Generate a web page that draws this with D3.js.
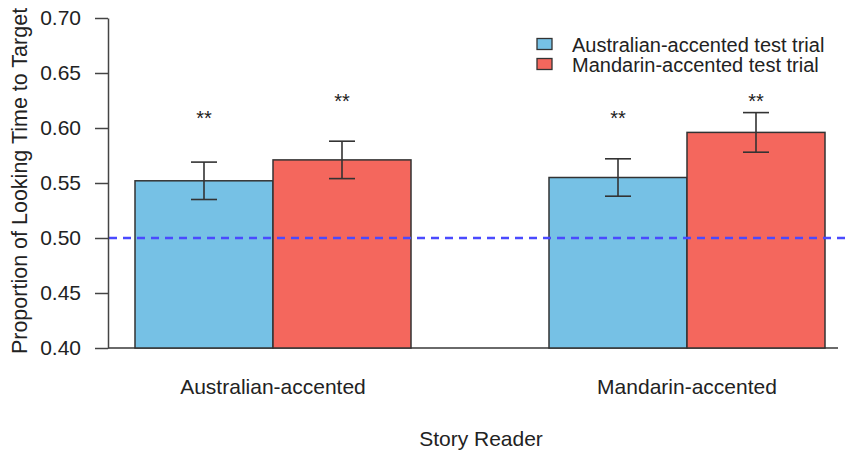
<!DOCTYPE html>
<html>
<head>
<meta charset="utf-8">
<script src="https://cdn.jsdelivr.net/npm/d3@7"></script>
<style>
  html, body { margin: 0; padding: 0; background: #fff; }
  svg { display: block; font-family: "Liberation Sans", Arial, Helvetica, sans-serif; }
</style>
</head>
<body>
<svg id="chart" width="845" height="453"></svg>
<script>
// ---- data ----
const groups = ["Australian-accented", "Mandarin-accented"];
const series = ["Australian-accented test trial", "Mandarin-accented test trial"];
const australianTrial = [0.552, 0.555];
const mandarinTrial   = [0.571, 0.596];
const australianErr   = [0.017, 0.017];
const mandarinErr     = [0.017, 0.018];
const starLevel       = [0.613, 0.628]; // y of "**" marks for trial 1 and 2
const starLabels      = ["**", "**"];
const yTicks = [0.40, 0.45, 0.50, 0.55, 0.60, 0.65, 0.70];
const chanceLevel = 0.50;
const colors = ["#76C1E5", "#F4675D"];

// ---- layout ----
const svg = d3.select("#chart");
const axisX = 108;
const y = d3.scaleLinear().domain([0.40, 0.70]).range([348, 18]);
const x0 = d3.scaleBand().domain(groups).range([135, 825]).paddingInner(1/3).paddingOuter(0);
const x1 = d3.scaleBand().domain(series).range([0, x0.bandwidth()]).padding(0);

const rows = [];
groups.forEach((g, gi) => {
  rows.push({g, s: series[0], v: australianTrial[gi], e: australianErr[gi], star: starLevel[0], lab: starLabels[0], c: colors[0]});
  rows.push({g, s: series[1], v: mandarinTrial[gi], e: mandarinErr[gi], star: starLevel[1], lab: starLabels[1], c: colors[1]});
});

// bottom baseline
svg.append("line")
  .attr("x1", axisX).attr("x2", 838)
  .attr("y1", y(0.40)).attr("y2", y(0.40))
  .attr("stroke", "#6a6a6a").attr("stroke-width", 2);

// bars
svg.append("g").selectAll("rect").data(rows).join("rect")
  .attr("x", d => x0(d.g) + x1(d.s))
  .attr("width", x1.bandwidth())
  .attr("y", d => y(d.v))
  .attr("height", d => y(0.40) - y(d.v))
  .attr("fill", d => d.c)
  .attr("stroke", "#333")
  .attr("stroke-width", 1.5);

// dashed chance line
svg.append("line")
  .attr("x1", axisX + 1).attr("x2", 845)
  .attr("y1", y(chanceLevel)).attr("y2", y(chanceLevel))
  .attr("stroke", "#4a4aff").attr("stroke-width", 2.5)
  .attr("stroke-dasharray", "8,6");

// error bars
const eb = svg.append("g").attr("stroke", "#333").attr("stroke-width", 1.6);
rows.forEach(d => {
  const cx = x0(d.g) + x1(d.s) + x1.bandwidth() / 2;
  eb.append("line").attr("x1", cx).attr("x2", cx).attr("y1", y(d.v + d.e)).attr("y2", y(d.v - d.e));
  eb.append("line").attr("x1", cx - 13).attr("x2", cx + 13).attr("y1", y(d.v + d.e)).attr("y2", y(d.v + d.e));
  eb.append("line").attr("x1", cx - 13).attr("x2", cx + 13).attr("y1", y(d.v - d.e)).attr("y2", y(d.v - d.e));
});

// significance stars
svg.append("g").selectAll("text").data(rows).join("text")
  .attr("x", d => x0(d.g) + x1(d.s) + x1.bandwidth() / 2)
  .attr("y", d => y(d.star) + 11)
  .attr("text-anchor", "middle")
  .attr("font-size", 20)
  .attr("fill", "#222")
  .text(d => d.lab);

// y axis
const yAxis = d3.axisLeft(y).tickValues(yTicks).tickFormat(d3.format(".2f"))
  .tickSize(13).tickSizeOuter(0).tickPadding(14);
const ya = svg.append("g").attr("transform", `translate(${axisX},0)`).call(yAxis);
ya.select(".domain").attr("stroke", "#444").attr("stroke-width", 1.5);
ya.selectAll(".tick line").attr("stroke", "#444").attr("stroke-width", 1.5);
ya.selectAll(".tick text").attr("font-size", 21).attr("fill", "#222")
  .attr("font-family", "'Liberation Sans', Arial, sans-serif");

// y axis title
svg.append("text")
  .attr("transform", "translate(27,181) rotate(-90)")
  .attr("text-anchor", "middle")
  .attr("font-size", 21.5)
  .attr("fill", "#222")
  .text("Proportion of Looking Time to Target");

// category labels
svg.append("g").selectAll("text").data(groups).join("text")
  .attr("x", d => x0(d) + x0.bandwidth() / 2)
  .attr("y", 394)
  .attr("text-anchor", "middle")
  .attr("font-size", 21)
  .attr("fill", "#222")
  .text(d => d);

// x axis title
svg.append("text")
  .attr("x", 481).attr("y", 446)
  .attr("text-anchor", "middle")
  .attr("font-size", 21)
  .attr("fill", "#222")
  .text("Story Reader");

// legend
const lg = svg.append("g");
series.forEach((s, i) => {
  const yy = 44 + i * 20;
  lg.append("rect").attr("x", 537).attr("y", yy - 5.5).attr("width", 15).attr("height", 11)
    .attr("fill", colors[i]).attr("stroke", "#333").attr("stroke-width", 1.3);
  lg.append("text").attr("x", 572).attr("y", yy + 7.5).attr("font-size", 20).attr("fill", "#222").text(s);
});
</script>
</body>
</html>
